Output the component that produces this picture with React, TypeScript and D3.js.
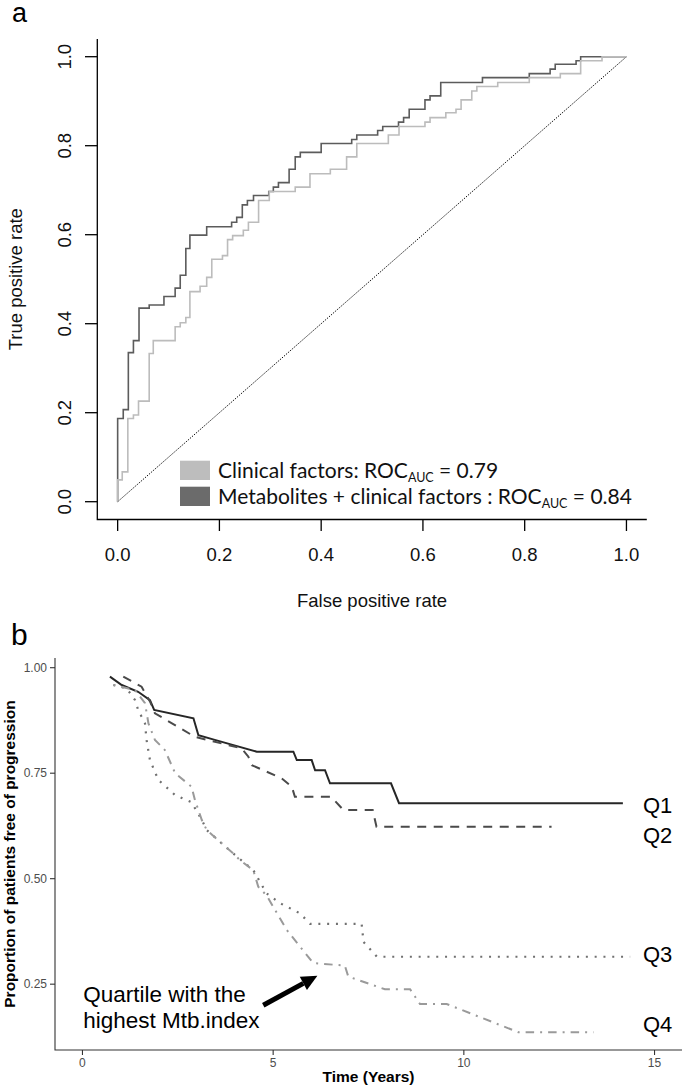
import React from 'react'
import * as d3 from 'd3'

// ---- panel a: ROC curves (fpr where each tpr level ends, tpr level) ----
const metabFpr = [0, 0.011, 0.021, 0.031, 0.042, 0.062, 0.091, 0.113, 0.123, 0.134, 0.142, 0.175, 0.224, 0.234, 0.245, 0.255, 0.267, 0.297, 0.306, 0.316, 0.337, 0.349, 0.359, 0.4, 0.46, 0.47, 0.511, 0.521, 0.552, 0.562, 0.573, 0.604, 0.614, 0.635, 0.717, 0.809, 0.85, 0.86, 0.901, 0.91, 1.0]
const metabTpr = [0, 0.187, 0.207, 0.335, 0.362, 0.435, 0.442, 0.461, 0.48, 0.509, 0.569, 0.599, 0.618, 0.628, 0.639, 0.667, 0.677, 0.688, 0.697, 0.707, 0.717, 0.747, 0.775, 0.785, 0.805, 0.814, 0.824, 0.834, 0.843, 0.853, 0.863, 0.882, 0.903, 0.912, 0.942, 0.953, 0.962, 0.972, 0.983, 0.991, 1.0]

const clinFpr = [0, 0.009, 0.02, 0.031, 0.041, 0.062, 0.07, 0.113, 0.123, 0.134, 0.142, 0.162, 0.175, 0.185, 0.206, 0.216, 0.226, 0.247, 0.257, 0.277, 0.298, 0.349, 0.378, 0.418, 0.45, 0.47, 0.532, 0.553, 0.604, 0.614, 0.645, 0.665, 0.675, 0.696, 0.706, 0.747, 0.809, 0.87, 0.91, 0.952, 1.0]
const clinTpr = [0, 0.049, 0.067, 0.187, 0.195, 0.226, 0.333, 0.362, 0.393, 0.402, 0.414, 0.472, 0.484, 0.504, 0.545, 0.553, 0.589, 0.598, 0.61, 0.628, 0.677, 0.697, 0.707, 0.737, 0.747, 0.775, 0.805, 0.824, 0.843, 0.853, 0.863, 0.874, 0.882, 0.903, 0.923, 0.933, 0.942, 0.953, 0.962, 0.991, 1.0]

const rocTicks = [0, 0.2, 0.4, 0.6, 0.8, 1.0]

// ---- panel b: survival by quartile ----
const q1Time = [0.72, 1.03, 1.46, 1.77, 1.88, 2.91, 3.04, 3.47, 4.57, 5.53, 5.62, 6.01, 6.1, 6.36, 6.49, 8.09, 8.3, 14.17]
const q1Surv = [0.979, 0.959, 0.943, 0.923, 0.9, 0.88, 0.84, 0.829, 0.801, 0.801, 0.781, 0.781, 0.757, 0.757, 0.726, 0.726, 0.679, 0.679]

const q2Time = [1.07, 1.55, 1.77, 1.9, 2.95, 4.17, 4.35, 4.44, 5.22, 5.49, 5.57, 6.52, 6.84, 7.61, 7.71, 12.3]
const q2Surv = [0.979, 0.955, 0.92, 0.892, 0.836, 0.809, 0.789, 0.769, 0.738, 0.718, 0.694, 0.694, 0.663, 0.663, 0.623, 0.623]

const q3Time = [0.81, 1.16, 1.38, 1.46, 1.64, 1.68, 1.77, 1.99, 2.43, 2.86, 3.13, 3.26, 3.95, 4.48, 4.83, 5.18, 5.7, 5.97, 7.32, 7.37, 7.72, 14.36]
const q3Surv = [0.959, 0.951, 0.923, 0.9, 0.868, 0.829, 0.781, 0.734, 0.698, 0.681, 0.639, 0.615, 0.56, 0.52, 0.465, 0.442, 0.418, 0.393, 0.393, 0.35, 0.315, 0.315]

const q4Time = [0.81, 1.38, 1.64, 1.73, 1.9, 2.16, 2.43, 2.86, 2.95, 3.13, 3.26, 3.95, 4.13, 4.48, 4.61, 4.83, 5.36, 6.05, 6.88, 6.97, 7.93, 8.59, 8.85, 9.55, 11.43, 13.4]
const q4Surv = [0.959, 0.947, 0.916, 0.868, 0.829, 0.805, 0.75, 0.718, 0.686, 0.639, 0.615, 0.56, 0.544, 0.52, 0.481, 0.46, 0.378, 0.3, 0.294, 0.268, 0.238, 0.238, 0.203, 0.203, 0.136, 0.136]

const kmXTicks = [0, 5, 10, 15]
const kmYTicks = [0.25, 0.5, 0.75, 1.0]
const quartileLabels = ['Q1', 'Q2', 'Q3', 'Q4']

const ARIAL = 'Liberation Sans, Arial, sans-serif'
const LEGEND_FONT = "Lato, 'Open Sans', sans-serif"

const zip = (a: number[], b: number[]): [number, number][] => a.map((v, i) => [v, b[i]])

const App: React.FunctionComponent = () => {
  const width = 685
  const height = 1090

  // panel a scales (R style 4% extension)
  const xA = d3.scaleLinear().domain([-0.04, 1.04]).range([97.3, 646.8])
  const yA = d3.scaleLinear().domain([-0.04, 1.04]).range([519.5, 38.9])

  const rocLine = d3
    .line<[number, number]>()
    .x(d => xA(d[0]))
    .y(d => yA(d[1]))
    .curve(d3.curveStepBefore)

  // panel b scales
  const xB = d3.scaleLinear().domain([-0.72, 15.72]).range([55, 682])
  const yB = d3.scaleLinear().domain([0.094, 1.023]).range([1050, 658])

  const kmLine = d3
    .line<[number, number]>()
    .x(d => xB(d[0]))
    .y(d => yB(d[1]))

  const series = [
    { t: q1Time, s: q1Surv, color: '#262626', dash: undefined, w: 2 },
    { t: q2Time, s: q2Surv, color: '#4a4a4a', dash: '9,7.5', w: 2 },
    { t: q3Time, s: q3Surv, color: '#707070', dash: '2,6.8', w: 2.2 },
    { t: q4Time, s: q4Surv, color: '#9a9a9a', dash: '2,6,8.5,6', w: 2 },
  ]
  const labelY = [813, 843, 962, 1032]

  // arrow geometry (data coords)
  const tail: [number, number] = [xB(4.74), yB(0.2)]
  const tip: [number, number] = [xB(6.16), yB(0.27)]
  const ang = Math.atan2(tip[1] - tail[1], tip[0] - tail[0])
  const headLen = 16
  const headHalf = 7.5
  const base: [number, number] = [tip[0] - headLen * Math.cos(ang), tip[1] - headLen * Math.sin(ang)]
  const headPts = [
    tip,
    [base[0] + headHalf * Math.sin(ang), base[1] - headHalf * Math.cos(ang)],
    [base[0] - headHalf * Math.sin(ang), base[1] + headHalf * Math.cos(ang)],
  ]

  return (
    <svg
      width={width}
      height={height}
      style={{ position: 'absolute', left: 0, top: 0, background: '#fff' }}
    >
      <rect width={width} height={height} fill="#fff" />

      {/* ---------- panel a ---------- */}
      <text x={12} y={22} fontFamily={ARIAL} fontSize={27}>a</text>

      <path
        d={`M${xA(-0.04)},${yA(1.04)}V${yA(-0.04)}H${xA(1.04)}`}
        fill="none"
        stroke="#000"
        strokeWidth={1.3}
      />
      {rocTicks.map(t => (
        <g key={`ya${t}`}>
          <line x1={85} x2={xA(-0.04)} y1={yA(t)} y2={yA(t)} stroke="#000" strokeWidth={1.3} />
          <text
            transform={`translate(70.7,${yA(t)}) rotate(-90)`}
            textAnchor="middle"
            fontFamily={ARIAL}
            fontSize={18.5}
            fill="#111"
          >
            {t.toFixed(1)}
          </text>
        </g>
      ))}
      {rocTicks.map(t => (
        <g key={`xa${t}`}>
          <line x1={xA(t)} x2={xA(t)} y1={yA(-0.04)} y2={531} stroke="#000" strokeWidth={1.3} />
          <text x={xA(t)} y={561} textAnchor="middle" fontFamily={ARIAL} fontSize={18.5} fill="#111">
            {t.toFixed(1)}
          </text>
        </g>
      ))}
      <text x={xA(0.5)} y={607} textAnchor="middle" fontFamily={ARIAL} fontSize={18.5} fill="#111">
        False positive rate
      </text>
      <text
        transform={`translate(22,${yA(0.5)}) rotate(-90)`}
        textAnchor="middle"
        fontFamily={ARIAL}
        fontSize={18.5}
        fill="#111"
      >
        True positive rate
      </text>

      <line
        x1={xA(0)}
        y1={yA(0)}
        x2={xA(1)}
        y2={yA(1)}
        stroke="#000"
        strokeWidth={1}
        strokeDasharray="1.3,1.3"
      />
      <path d={rocLine(zip(metabFpr, metabTpr)) || ''} fill="none" stroke="#5c5c5c" strokeWidth={1.6} />
      <path d={rocLine(zip(clinFpr, clinTpr)) || ''} fill="none" stroke="#bcbcbc" strokeWidth={1.6} />

      {/* legend */}
      <rect x={180} y={460.7} width={30} height={19.3} fill="#bdbdbd" />
      <rect x={180} y={486.7} width={30} height={19.3} fill="#6b6b6b" />
      <text x={218} y={477.5} fontFamily={LEGEND_FONT} fontSize={21} fill="#111">
        Clinical factors: ROC
        <tspan dy={4} fontSize={12.5}>AUC</tspan>
        <tspan dy={-4}> = 0.79</tspan>
      </text>
      <text x={218} y={504} fontFamily={LEGEND_FONT} fontSize={21} fill="#111">
        Metabolites + clinical factors : ROC
        <tspan dy={4} fontSize={12.5}>AUC</tspan>
        <tspan dy={-4}> = 0.84</tspan>
      </text>

      {/* ---------- panel b ---------- */}
      <text x={11} y={645} fontFamily={ARIAL} fontSize={30}>b</text>

      <path
        d={`M${xB(-0.72)},${yB(1.023)}V${yB(0.094)}H${xB(15.72)}`}
        fill="none"
        stroke="#333"
        strokeWidth={1.1}
      />
      {kmYTicks.map(t => (
        <g key={`yb${t}`}>
          <line x1={50} x2={55} y1={yB(t)} y2={yB(t)} stroke="#333" strokeWidth={1.1} />
          <text
            x={47}
            y={yB(t)}
            dy="0.35em"
            textAnchor="end"
            fontFamily={ARIAL}
            fontSize={12}
            fill="#4d4d4d"
          >
            {t.toFixed(2)}
          </text>
        </g>
      ))}
      {kmXTicks.map(t => (
        <g key={`xb${t}`}>
          <line x1={xB(t)} x2={xB(t)} y1={1050} y2={1055} stroke="#333" strokeWidth={1.1} />
          <text x={xB(t)} y={1067} textAnchor="middle" fontFamily={ARIAL} fontSize={12} fill="#4d4d4d">
            {t}
          </text>
        </g>
      ))}
      <text
        x={xB(7.5)}
        y={1082}
        textAnchor="middle"
        fontFamily={ARIAL}
        fontWeight="bold"
        fontSize={15.5}
        fill="#000"
      >
        Time (Years)
      </text>
      <text
        transform={`translate(15,${(yB(1.023) + yB(0.094)) / 2}) rotate(-90)`}
        textAnchor="middle"
        fontFamily={ARIAL}
        fontWeight="bold"
        fontSize={15.5}
        fill="#000"
      >
        Proportion of patients free of progression
      </text>

      {series.map((s, i) => (
        <path
          key={`q${i}`}
          d={kmLine(zip(s.t, s.s)) || ''}
          fill="none"
          stroke={s.color}
          strokeWidth={s.w}
          strokeDasharray={s.dash}
        />
      ))}
      {quartileLabels.map((q, i) => (
        <text key={q} x={643} y={labelY[i]} fontFamily={ARIAL} fontSize={22} fill="#000">
          {q}
        </text>
      ))}

      <text fontFamily={ARIAL} fontSize={22.5} fill="#000">
        <tspan x={xB(0.02)} y={yB(0.208)}>Quartile with the</tspan>
        <tspan x={xB(0.02)} y={yB(0.146)}>highest Mtb.index</tspan>
      </text>
      <line x1={tail[0]} y1={tail[1]} x2={base[0]} y2={base[1]} stroke="#000" strokeWidth={5} />
      <polygon points={headPts.map(p => p.join(',')).join(' ')} fill="#000" />
    </svg>
  )
}

export default App
